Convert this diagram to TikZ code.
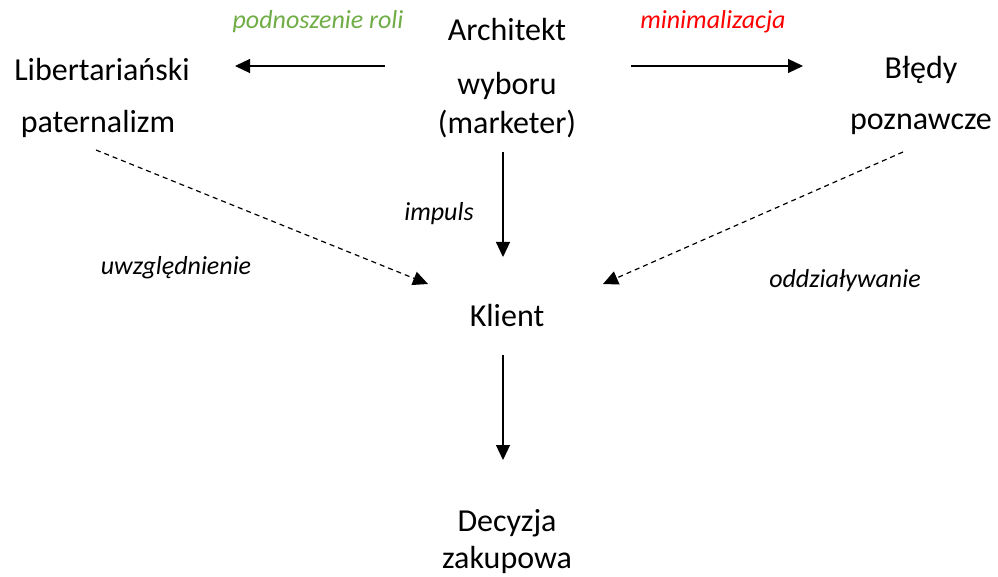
\documentclass[tikz,border=0pt]{standalone}
\usepackage{fontspec}
\setmainfont{Carlito}
\usetikzlibrary{arrows.meta}
\definecolor{labgreen}{RGB}{112,173,71}
\definecolor{labred}{RGB}{255,0,0}
\tikzset{
  txt/.style={inner sep=0pt, anchor=center, font=\fontsize{32}{38}\selectfont},
  lab/.style={inner sep=0pt, anchor=center, font=\fontsize{26}{31}\selectfont\itshape},
  arr/.style={line width=1.2pt, -{Triangle[length=15pt,width=14pt]}},
  darr/.style={arr, dash pattern=on 5pt off 4pt}
}
\begin{document}
\begin{tikzpicture}[x=1pt,y=-1pt]
\useasboundingbox (0,0) rectangle (998,577);
% text blocks
\node[txt] (arch1) at (507,30) {Architekt};
\node[txt] (arch2) at (507,86) {wyboru};
\node[txt] (arch3) at (507,124) {(marketer)};
\node[txt] (lib1) at (102,70) {Libertariański};
\node[txt] (lib2) at (98,124) {paternalizm};
\node[txt] (bl1) at (921,70) {Błędy};
\node[txt] (bl2) at (921,124) {poznawcze};
\node[txt] (klient) at (507,316) {Klient};
\node[txt] (dec1) at (507,523) {Decyzja};
\node[txt] (dec2) at (507,560) {zakupowa};
% edge labels
\node[lab, text=labgreen] (lpod) at (318,22) {podnoszenie roli};
\node[lab, text=labred] (lmin) at (713,22) {minimalizacja};
\node[lab] (limp) at (439,214) {impuls};
\node[lab] (luwz) at (176,268) {uwzględnienie};
\node[lab] (lodd) at (845,281) {oddziaływanie};
% connector end points
\coordinate (aL1) at (385,66);
\coordinate (aL2) at (235,66);
\coordinate (aR1) at (631,66);
\coordinate (aR2) at (803,66);
\coordinate (aV1) at (503,152);
\coordinate (aV2) at (503,257);
\coordinate (dL1) at (96,150);
\coordinate (dL2) at (428,284);
\coordinate (dR1) at (903,152);
\coordinate (dR2) at (603,284);
\coordinate (aK1) at (503,355);
\coordinate (aK2) at (503,460);
% connectors
\draw[arr] (aL1) -- (aL2);
\draw[arr] (aR1) -- (aR2);
\draw[arr] (aV1) -- (aV2);
\draw[darr] (dL1) -- (dL2);
\draw[darr] (dR1) -- (dR2);
\draw[arr] (aK1) -- (aK2);
\end{tikzpicture}
\end{document}
